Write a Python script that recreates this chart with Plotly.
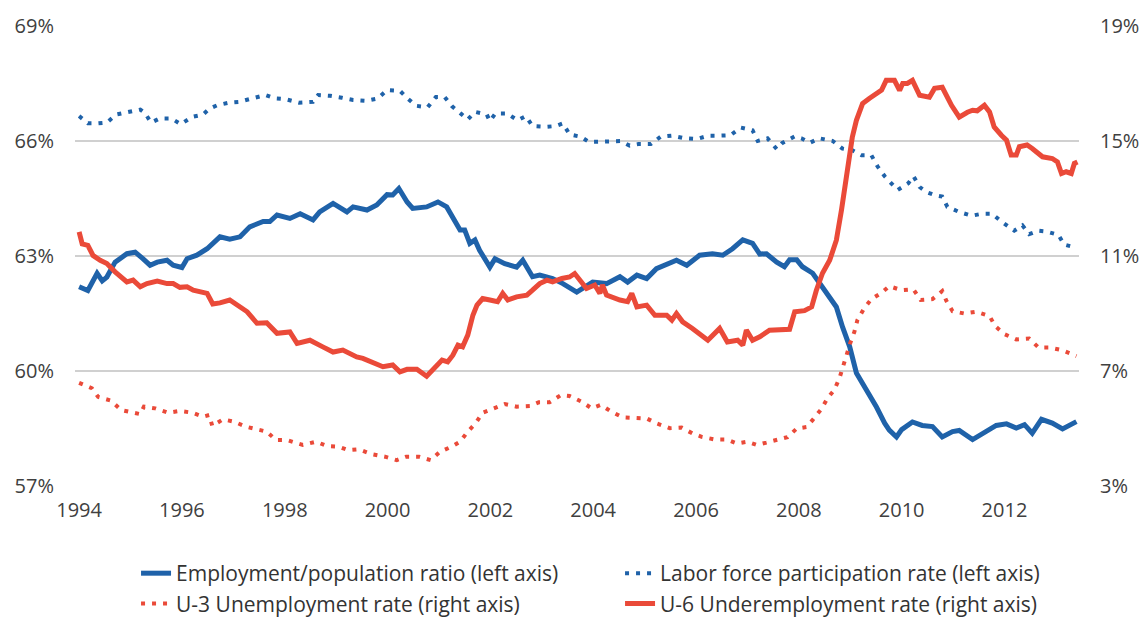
import plotly.graph_objects as go

# ---- data (decimal years, values in %) ----
ep_year = [1994.00, 1994.17, 1994.35, 1994.45, 1994.54, 1994.70, 1994.93, 1995.09, 1995.24, 1995.38,
           1995.52, 1995.71, 1995.83, 1996.00, 1996.10, 1996.29, 1996.49, 1996.74, 1996.93, 1997.13,
           1997.32, 1997.58, 1997.71, 1997.85, 1998.10, 1998.30, 1998.55, 1998.68, 1998.94, 1999.21,
           1999.33, 1999.60, 1999.79, 1999.99, 2000.10, 2000.22, 2000.38, 2000.49, 2000.76, 2000.98,
           2001.15, 2001.41, 2001.50, 2001.60, 2001.70, 2001.79, 2001.99, 2002.09, 2002.28, 2002.51,
           2002.63, 2002.82, 2002.96, 2003.21, 2003.41, 2003.68, 2003.99, 2004.26, 2004.52, 2004.67,
           2004.85, 2005.04, 2005.23, 2005.49, 2005.62, 2005.82, 2006.07, 2006.32, 2006.52, 2006.71,
           2006.91, 2007.10, 2007.24, 2007.37, 2007.57, 2007.72, 2007.82, 2007.96, 2008.07, 2008.27,
           2008.40, 2008.56, 2008.73, 2008.85, 2008.99, 2009.12, 2009.32, 2009.51, 2009.67, 2009.76,
           2009.90, 2010.00, 2010.21, 2010.40, 2010.60, 2010.79, 2010.99, 2011.12, 2011.38, 2011.65,
           2011.84, 2012.04, 2012.23, 2012.39, 2012.54, 2012.72, 2012.93, 2013.13, 2013.40]
ep_val = [62.2, 62.1, 62.55, 62.35, 62.45, 62.84, 63.06, 63.1, 62.93, 62.76,
          62.84, 62.89, 62.76, 62.7, 62.93, 63.02, 63.19, 63.5, 63.44, 63.5,
          63.76, 63.9, 63.9, 64.07, 63.98, 64.1, 63.94, 64.15, 64.37, 64.15,
          64.28, 64.2, 64.33, 64.6, 64.59, 64.76, 64.41, 64.24, 64.28, 64.41,
          64.28, 63.68, 63.68, 63.33, 63.42, 63.15, 62.71, 62.93, 62.8, 62.71,
          62.89, 62.46, 62.5, 62.41, 62.28, 62.06, 62.32, 62.28, 62.46, 62.32,
          62.5, 62.41, 62.67, 62.84, 62.89, 62.76, 63.02, 63.06, 63.02, 63.19,
          63.42, 63.33, 63.05, 63.06, 62.84, 62.72, 62.9, 62.9, 62.72, 62.55,
          62.3, 62.03, 61.67, 61.15, 60.63, 59.95, 59.5, 59.06, 58.64, 58.46,
          58.28, 58.47, 58.67, 58.58, 58.55, 58.28, 58.42, 58.45, 58.21, 58.43,
          58.58, 58.62, 58.51, 58.6, 58.38, 58.74, 58.64, 58.49, 58.68]

lf_year = [1994.00, 1994.17, 1994.37, 1994.54, 1994.72, 1994.95, 1995.19, 1995.28, 1995.40, 1995.57,
           1995.79, 1995.98, 1996.20, 1996.41, 1996.53, 1996.68, 1996.92, 1997.11, 1997.36, 1997.62,
           1997.81, 1998.02, 1998.28, 1998.55, 1998.65, 1998.88, 1999.11, 1999.33, 1999.58, 1999.81,
           1999.99, 2000.24, 2000.39, 2000.55, 2000.78, 2000.94, 2001.11, 2001.25, 2001.42, 2001.56,
           2001.70, 2001.93, 2001.99, 2002.10, 2002.32, 2002.53, 2002.69, 2002.82, 2003.08, 2003.27,
           2003.41, 2003.54, 2003.76, 2003.91, 2004.09, 2004.32, 2004.53, 2004.71, 2004.88, 2005.12,
           2005.31, 2005.53, 2005.78, 2006.01, 2006.24, 2006.48, 2006.67, 2006.87, 2007.10, 2007.20,
           2007.39, 2007.57, 2007.68, 2007.92, 2008.05, 2008.21, 2008.40, 2008.66, 2008.85, 2009.04,
           2009.22, 2009.41, 2009.53, 2009.67, 2009.82, 2009.92, 2010.13, 2010.23, 2010.35, 2010.48,
           2010.64, 2010.79, 2010.89, 2011.12, 2011.36, 2011.55, 2011.76, 2011.94, 2012.19, 2012.35,
           2012.48, 2012.66, 2012.81, 2013.05, 2013.16, 2013.30]
lf_val = [66.65, 66.46, 66.46, 66.48, 66.69, 66.76, 66.82, 66.73, 66.48, 66.59,
          66.59, 66.44, 66.63, 66.69, 66.84, 66.93, 67.0, 67.02, 67.11, 67.2,
          67.11, 67.09, 67.0, 67.02, 67.2, 67.18, 67.13, 67.07, 67.05, 67.11,
          67.33, 67.31, 67.11, 66.92, 66.88, 67.15, 67.15, 66.91, 66.72, 66.56,
          66.76, 66.69, 66.52, 66.72, 66.72, 66.54, 66.65, 66.39, 66.37, 66.39,
          66.46, 66.17, 66.11, 65.98, 65.98, 65.98, 66.0, 65.88, 65.92, 65.92,
          66.11, 66.14, 66.07, 66.05, 66.14, 66.14, 66.15, 66.35, 66.28, 66.0,
          66.07, 65.79, 65.95, 66.12, 66.07, 65.95, 66.07, 66.0, 65.8, 65.76,
          65.63, 65.63, 65.34, 65.08, 64.85, 64.72, 64.9, 65.08, 64.8, 64.67,
          64.59, 64.55, 64.28, 64.15, 64.05, 64.1, 64.1, 63.9, 63.66, 63.8,
          63.57, 63.66, 63.64, 63.55, 63.3, 63.25]

u3_year = [1994.00, 1994.25, 1994.37, 1994.62, 1994.82, 1995.01, 1995.19, 1995.26, 1995.48, 1995.73,
           1995.96, 1996.20, 1996.41, 1996.53, 1996.59, 1996.80, 1997.01, 1997.25, 1997.44, 1997.65,
           1997.83, 1998.04, 1998.20, 1998.35, 1998.61, 1998.82, 1999.05, 1999.23, 1999.44, 1999.69,
           1999.95, 2000.18, 2000.36, 2000.61, 2000.84, 2001.02, 2001.25, 2001.41, 2001.56, 2001.72,
           2001.85, 2002.09, 2002.28, 2002.51, 2002.77, 2002.94, 2003.15, 2003.37, 2003.54, 2003.78,
           2003.97, 2004.15, 2004.36, 2004.57, 2004.81, 2005.04, 2005.23, 2005.49, 2005.72, 2005.93,
           2006.11, 2006.36, 2006.59, 2006.79, 2007.00, 2007.18, 2007.37, 2007.55, 2007.78, 2007.96,
           2008.15, 2008.27, 2008.44, 2008.56, 2008.69, 2008.79, 2008.85, 2008.93, 2009.00, 2009.08,
           2009.14, 2009.26, 2009.41, 2009.61, 2009.76, 2010.00, 2010.23, 2010.37, 2010.60, 2010.79,
           2010.87, 2010.99, 2011.22, 2011.45, 2011.71, 2011.82, 2012.00, 2012.23, 2012.48, 2012.66,
           2012.87, 2013.11, 2013.40]
u3_val = [6.59, 6.4, 6.1, 5.97, 5.64, 5.55, 5.5, 5.76, 5.7, 5.55,
          5.61, 5.55, 5.41, 5.47, 5.09, 5.32, 5.24, 5.06, 4.97, 4.89,
          4.6, 4.6, 4.51, 4.43, 4.54, 4.39, 4.37, 4.25, 4.28, 4.11,
          4.02, 3.9, 4.02, 4.02, 3.9, 4.19, 4.37, 4.54, 4.89, 5.2,
          5.55, 5.7, 5.85, 5.76, 5.78, 5.91, 5.91, 6.16, 6.13, 5.93,
          5.7, 5.82, 5.58, 5.39, 5.37, 5.35, 5.18, 5.01, 5.03, 4.83,
          4.71, 4.62, 4.62, 4.48, 4.54, 4.43, 4.51, 4.6, 4.7, 5.0,
          5.05, 5.3, 5.68, 6.06, 6.34, 6.75, 7.14, 7.56, 7.97, 8.36,
          8.77, 9.15, 9.5, 9.72, 9.95, 9.81, 9.84, 9.47, 9.5, 9.78,
          9.44, 9.08, 9.0, 9.06, 8.91, 8.56, 8.28, 8.1, 8.13, 7.82,
          7.82, 7.73, 7.52]

u6_year = [1994.00, 1994.06, 1994.17, 1994.27, 1994.41, 1994.54, 1994.70, 1994.93, 1995.05, 1995.19,
           1995.32, 1995.52, 1995.71, 1995.83, 1995.96, 1996.10, 1996.22, 1996.35, 1996.49, 1996.60,
           1996.74, 1996.93, 1997.07, 1997.27, 1997.46, 1997.65, 1997.85, 1998.10, 1998.24, 1998.49,
           1998.74, 1998.94, 1999.13, 1999.27, 1999.40, 1999.52, 1999.71, 1999.91, 2000.10, 2000.24,
           2000.38, 2000.57, 2000.76, 2000.88, 2001.06, 2001.17, 2001.27, 2001.37, 2001.46, 2001.56,
           2001.66, 2001.74, 2001.85, 2001.99, 2002.14, 2002.24, 2002.34, 2002.51, 2002.71, 2002.82,
           2002.96, 2003.10, 2003.21, 2003.39, 2003.54, 2003.64, 2003.74, 2003.87, 2004.03, 2004.13,
           2004.18, 2004.26, 2004.52, 2004.67, 2004.75, 2004.85, 2005.04, 2005.20, 2005.43, 2005.53,
           2005.62, 2005.74, 2005.93, 2006.23, 2006.46, 2006.61, 2006.81, 2006.91, 2006.98, 2007.10,
           2007.24, 2007.43, 2007.82, 2007.92, 2008.11, 2008.25, 2008.34, 2008.46, 2008.60, 2008.73,
           2008.83, 2008.93, 2008.99, 2009.04, 2009.12, 2009.24, 2009.37, 2009.51, 2009.61, 2009.70,
           2009.86, 2009.96, 2010.02, 2010.11, 2010.21, 2010.35, 2010.54, 2010.64, 2010.79, 2010.97,
           2011.12, 2011.28, 2011.38, 2011.47, 2011.61, 2011.71, 2011.80, 2011.94, 2012.04, 2012.13,
           2012.23, 2012.29, 2012.44, 2012.54, 2012.64, 2012.74, 2012.93, 2013.03, 2013.11, 2013.20,
           2013.30, 2013.36, 2013.42]
u6_val = [11.84, 11.42, 11.37, 11.02, 10.85, 10.74, 10.45, 10.1, 10.16, 9.93,
          10.04, 10.13, 10.04, 10.04, 9.91, 9.93, 9.81, 9.76, 9.7, 9.33,
          9.37, 9.47, 9.29, 9.06, 8.66, 8.68, 8.31, 8.36, 7.96, 8.07,
          7.84, 7.66, 7.73, 7.61, 7.49, 7.44, 7.32, 7.15, 7.21, 6.97,
          7.06, 7.06, 6.82, 7.03, 7.38, 7.32, 7.55, 7.9, 7.84, 8.25,
          8.94, 9.29, 9.52, 9.47, 9.41, 9.7, 9.47, 9.58, 9.64, 9.81,
          10.04, 10.16, 10.1, 10.22, 10.27, 10.39, 10.16, 9.87, 9.99, 9.7,
          9.99, 9.64, 9.47, 9.41, 9.7, 9.23, 9.29, 8.94, 8.94, 8.77,
          9.0, 8.71, 8.48, 8.07, 8.48, 8.01, 8.07, 7.9, 8.42, 8.07,
          8.19, 8.42, 8.45, 9.06, 9.1, 9.23, 9.8, 10.4, 10.85, 11.55,
          12.6, 13.74, 14.33, 15.13, 15.72, 16.3, 16.48, 16.65, 16.77, 17.11,
          17.11, 16.76, 17.0, 17.0, 17.11, 16.59, 16.52, 16.83, 16.87, 16.24,
          15.83, 16.0, 16.07, 16.05, 16.24, 16.01, 15.49, 15.2, 15.03, 14.51,
          14.51, 14.8, 14.86, 14.74, 14.62, 14.45, 14.39, 14.27, 13.87, 13.93,
          13.87, 14.22, 14.27]

x_ticks = [1994, 1996, 1998, 2000, 2002, 2004, 2006, 2008, 2010, 2012]
x_ticktext = [str(v) for v in x_ticks]
left_ticks = [57, 60, 63, 66, 69]
right_ticks = [3, 7, 11, 15, 19]

names = ["Employment/population ratio (left axis)",
         "Labor force participation rate (left axis)",
         "U-3 Unemployment rate (right axis)",
         "U-6 Underemployment rate (right axis)"]

BLUE = "#1f62a9"
RED = "#ea4a39"
FONT = "Open Sans"
TICK_FONT = dict(family=FONT, size=20, color="#404040")

fig = go.Figure()
fig.add_trace(go.Scatter(x=ep_year, y=ep_val, name=names[0], mode="lines",
                         line=dict(color=BLUE, width=5), yaxis="y"))
fig.add_trace(go.Scatter(x=lf_year, y=lf_val, name=names[1], mode="lines",
                         line=dict(color=BLUE, width=4, dash="4px,7px"), yaxis="y"))
fig.add_trace(go.Scatter(x=u3_year, y=u3_val, name=names[2], mode="lines",
                         line=dict(color=RED, width=4, dash="4px,7px"), yaxis="y2"))
fig.add_trace(go.Scatter(x=u6_year, y=u6_val, name=names[3], mode="lines",
                         line=dict(color=RED, width=5), yaxis="y2"))

fig.update_layout(
    width=1148, height=620,
    margin=dict(l=75, r=69, t=26, b=134, autoexpand=False),
    paper_bgcolor="white", plot_bgcolor="white",
    font=dict(family=FONT, size=20, color="#404040"),
    showlegend=True,
    legend=dict(orientation="h", xref="container", yref="container",
                x=0.1185, xanchor="left", y=0.108, yanchor="top",
                entrywidth=439, entrywidthmode="pixels",
                font=dict(family=FONT, size=21, color="#333333"),
                bgcolor="rgba(0,0,0,0)", tracegroupgap=0),
    xaxis=dict(range=[1993.92, 2013.45], tickvals=x_ticks, ticktext=x_ticktext,
               showgrid=False, zeroline=False, showline=False, ticks="",
               ticklabelstandoff=10, tickfont=TICK_FONT),
    yaxis=dict(range=[57, 69], tickvals=left_ticks,
               ticktext=[f"{v}%" for v in left_ticks],
               showgrid=True, gridcolor="#d0d0d0", gridwidth=1.5,
               zeroline=False, showline=False, ticks="",
               ticklabelstandoff=20, tickfont=TICK_FONT),
    yaxis2=dict(range=[3, 19], tickvals=right_ticks,
                ticktext=[f"{v}%" for v in right_ticks],
                overlaying="y", side="right", showgrid=False,
                zeroline=False, showline=False, ticks="",
                ticklabelstandoff=20, tickfont=TICK_FONT),
)

fig.write_html("out.html")
